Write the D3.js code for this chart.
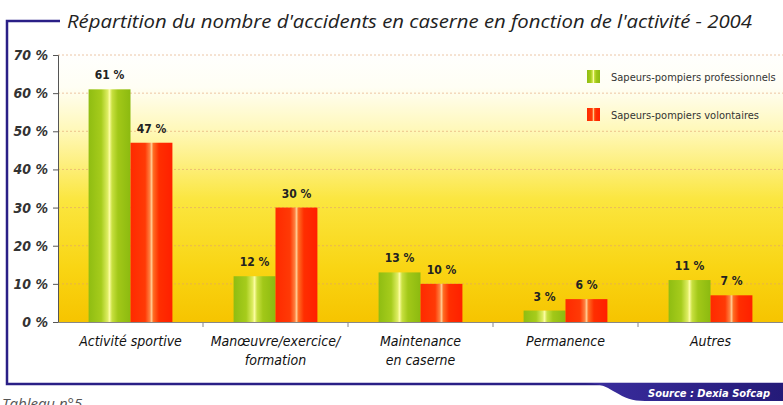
<!DOCTYPE html>
<html>
<head>
<meta charset="utf-8">
<script src="https://cdn.jsdelivr.net/npm/d3@7"></script>
<style>
  body { margin: 0; background: #fff; }
  svg { display: block; }
  .cond { font-family: "Liberation Sans Narrow", "DejaVu Sans Condensed", "Open Sans", sans-serif; }
</style>
</head>
<body>
<div id="chart"></div>
<script>
var categories = [["Activité sportive"], ["Manœuvre/exercice/", "formation"], ["Maintenance", "en caserne"], ["Permanence"], ["Autres"]];
var seriesNames = ["Sapeurs-pompiers professionnels", "Sapeurs-pompiers volontaires"];
var pro = [61, 12, 13, 3, 11];
var vol = [47, 30, 10, 6, 7];
var yTicks = [0, 10, 20, 30, 40, 50, 60, 70];

var w = 783, h = 405;
var plotLeft = 58, plotRight = 783, plotTop = 55, plotBottom = 322;

var svg = d3.select("#chart").append("svg")
    .attr("width", w)
    .attr("height", h);

var defs = svg.append("defs");

// background of the plot
var bg = defs.append("linearGradient").attr("id", "bg")
    .attr("x1", 0).attr("y1", 0).attr("x2", 0).attr("y2", 1);
[[0, "#ffffff"], [0.14, "#fffef4"], [0.3, "#fff8b8"], [0.55, "#fbe640"], [0.8, "#f9d514"], [1, "#f6c400"]]
  .forEach(function (s) { bg.append("stop").attr("offset", s[0]).attr("stop-color", s[1]); });

function barGrad(id, stops) {
    var g = defs.append("linearGradient").attr("id", id)
        .attr("x1", 0).attr("y1", 0).attr("x2", 1).attr("y2", 0);
    stops.forEach(function (s) { g.append("stop").attr("offset", s[0]).attr("stop-color", s[1]); });
}
barGrad("gPro", [[0, "#8fbd12"], [0.3, "#a6cc1c"], [0.45, "#dcec60"], [0.5, "#fbfca0"], [0.56, "#c8e040"], [0.7, "#a2c818"], [1, "#8cba10"]]);
barGrad("gVol", [[0, "#ff2a00"], [0.35, "#ff3a06"], [0.46, "#ff8040"], [0.5, "#ffc890"], [0.55, "#ff6a20"], [0.68, "#ff2e00"], [1, "#ff2000"]]);

var nav = defs.append("linearGradient").attr("id", "nav")
    .attr("x1", 0).attr("y1", 0).attr("x2", 1).attr("y2", 0);
nav.append("stop").attr("offset", 0).attr("stop-color", "#3b2ea0");
nav.append("stop").attr("offset", 1).attr("stop-color", "#241a78");

var x0 = d3.scaleBand()
    .domain(d3.range(categories.length))
    .range([plotLeft, plotRight]);

var x1 = d3.scaleBand()
    .domain([0, 1])
    .range([0, x0.bandwidth()])
    .paddingOuter(0.73);

var y = d3.scaleLinear()
    .domain([0, 70])
    .range([plotBottom, plotTop]);

// plot background
svg.append("rect")
    .attr("x", plotLeft).attr("y", plotTop - 6)
    .attr("width", plotRight - plotLeft).attr("height", plotBottom - plotTop + 6)
    .attr("fill", "url(#bg)");

// frame
svg.append("path")
    .attr("d", "M60,21 H7 V384 H783")
    .attr("fill", "none")
    .attr("stroke", "#2a1f86")
    .attr("stroke-width", 2.5);

svg.append("path")
    .attr("d", "M578,383 C600,383 605,386 615,392 C625,398 632,401 645,401 H783 V383 Z")
    .attr("fill", "url(#nav)");

svg.append("text")
    .attr("class", "cond")
    .attr("x", 770).attr("y", 397)
    .attr("text-anchor", "end")
    .attr("fill", "#fff")
    .attr("font-size", 11)
    .attr("font-style", "italic")
    .attr("font-weight", "bold")
    .text("Source : Dexia Sofcap");

svg.append("text")
    .attr("x", 2).attr("y", 409)
    .attr("fill", "#555")
    .attr("font-family", "Open Sans, sans-serif")
    .attr("font-size", 15)
    .attr("font-style", "italic")
    .text("Tableau n°5");

// title
svg.append("text")
    .attr("x", 67).attr("y", 28)
    .attr("fill", "#222")
    .attr("font-family", "Open Sans, sans-serif")
    .attr("font-size", 19)
    .attr("font-style", "italic")
    .attr("textLength", 685)
    .attr("lengthAdjust", "spacingAndGlyphs")
    .text("Répartition du nombre d'accidents en caserne en fonction de l'activité - 2004");

// gridlines
svg.append("g")
    .selectAll("line")
    .data(yTicks.slice(1))
    .enter().append("line")
    .attr("x1", plotLeft).attr("x2", plotRight)
    .attr("y1", function (d) { return y(d); })
    .attr("y2", function (d) { return y(d); })
    .attr("stroke", "#e0a070")
    .attr("stroke-opacity", 0.6)
    .attr("stroke-dasharray", "2,2");

// y axis
var yAxis = d3.axisLeft(y)
    .tickValues(yTicks)
    .tickSize(5)
    .tickFormat(function (d) { return d + " %"; });

var gy = svg.append("g")
    .attr("transform", "translate(" + plotLeft + ",0)")
    .call(yAxis);
gy.select(".domain").attr("stroke", "#555");
gy.selectAll(".tick line").attr("stroke", "#555");
gy.selectAll(".tick text")
    .attr("class", "cond")
    .attr("x", -10)
    .attr("fill", "#333")
    .attr("font-size", 14)
    .attr("font-weight", "bold")
    .attr("font-style", "italic");

// x axis
var xAxis = d3.axisBottom(x0).tickSize(0).tickFormat("");
var gx = svg.append("g")
    .attr("transform", "translate(0," + plotBottom + ")")
    .call(xAxis);
gx.select(".domain").attr("stroke", "#888").attr("stroke-width", 1.2);
gx.selectAll(".sep")
    .data(d3.range(1, categories.length))
    .enter().append("line")
    .attr("x1", function (d) { return x0(d); })
    .attr("x2", function (d) { return x0(d); })
    .attr("y1", 0).attr("y2", 5)
    .attr("stroke", "#888");

// bars
var groups = svg.append("g")
    .selectAll("g")
    .data(categories)
    .enter().append("g")
    .attr("transform", function (d, i) { return "translate(" + x0(i) + ",0)"; });

var values = [pro, vol];
var fills = ["url(#gPro)", "url(#gVol)"];

groups.each(function (c, i) {
    var g = d3.select(this);
    [0, 1].forEach(function (s) {
        var v = values[s][i];
        g.append("rect")
            .attr("x", x1(s))
            .attr("width", x1.bandwidth())
            .attr("y", y(v))
            .attr("height", plotBottom - y(v))
            .attr("fill", fills[s]);
        g.append("text")
            .attr("class", "cond")
            .attr("x", x1(s) + x1.bandwidth() / 2)
            .attr("y", y(v) - 10)
            .attr("text-anchor", "middle")
            .attr("fill", "#222")
            .attr("font-size", 12)
            .attr("font-weight", "bold")
            .text(v + " %");
    });
    var lab = g.append("text")
        .attr("class", "cond")
        .attr("text-anchor", "middle")
        .attr("fill", "#111")
        .attr("font-size", 14)
        .attr("font-style", "italic");
    c.forEach(function (line, k) {
        lab.append("tspan")
            .attr("x", x0.bandwidth() / 2)
            .attr("y", 346 + k * 19)
            .text(line);
    });
});

// legend
var legend = svg.append("g")
    .selectAll("g")
    .data(seriesNames)
    .enter().append("g")
    .attr("transform", function (d, i) { return "translate(587," + (70 + i * 38) + ")"; });

legend.append("rect")
    .attr("width", 13).attr("height", 13)
    .attr("fill", function (d, i) { return fills[i]; });

legend.append("text")
    .attr("class", "cond")
    .attr("x", 24).attr("y", 11)
    .attr("fill", "#333")
    .attr("font-size", 11)
    .text(function (d) { return d; });
</script>
</body>
</html>
